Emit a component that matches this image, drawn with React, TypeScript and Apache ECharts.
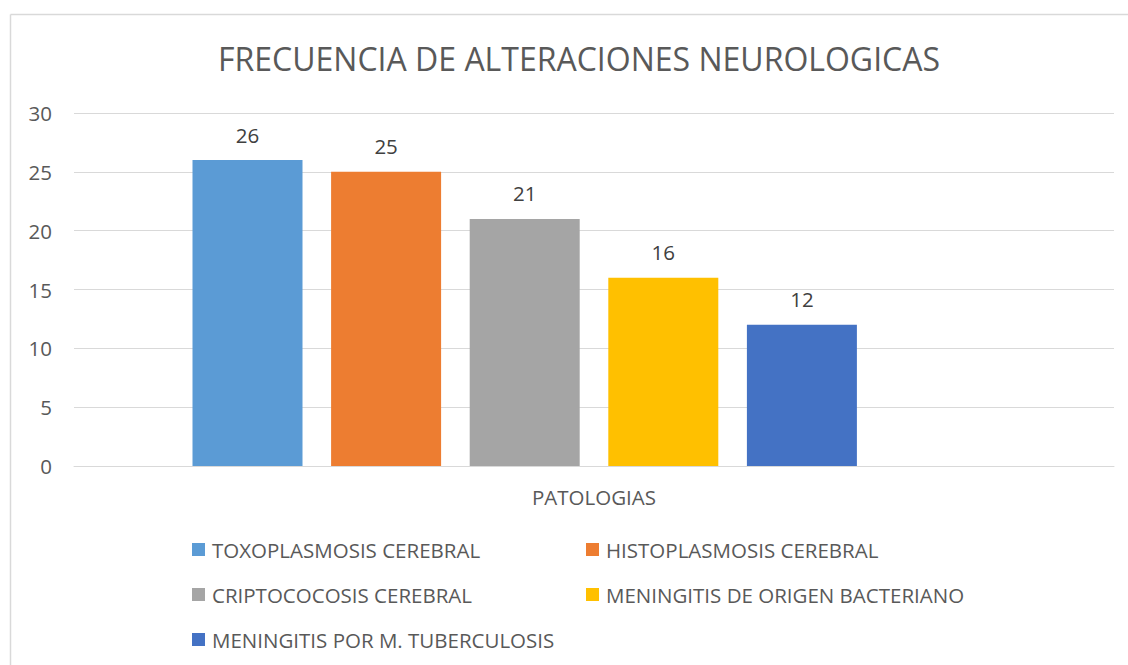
import React, { useEffect, useRef } from "react";
import * as echarts from "echarts";

const categories = ["PATOLOGIAS"];
const seriesNames = [
  "TOXOPLASMOSIS CEREBRAL",
  "HISTOPLASMOSIS CEREBRAL",
  "CRIPTOCOCOSIS CEREBRAL",
  "MENINGITIS DE ORIGEN BACTERIANO",
  "MENINGITIS POR M. TUBERCULOSIS",
  "",
];
const seriesValues = [26, 25, 21, 16, 12, null];
const seriesColors = ["#5B9BD5", "#ED7D31", "#A5A5A5", "#FFC000", "#4472C4", "#70AD47"];
const yTicks = [0, 5, 10, 15, 20, 25, 30];

const FONT = "'Open Sans', sans-serif";
const TXT = "#595959";
const FS = 20.5;

export default function App() {
  const ref = useRef<HTMLDivElement>(null);
  useEffect(() => {
    const chart = echarts.init(ref.current!, null, { renderer: "svg" });
    const legendPos = [
      { left: 192, top: 539 },
      { left: 586, top: 539 },
      { left: 192, top: 584 },
      { left: 586, top: 584 },
      { left: 192, top: 629 },
    ];
    chart.setOption({
      animation: false,
      backgroundColor: "#fff",
      title: {
        text: "FRECUENCIA DE ALTERACIONES NEUROLOGICAS",
        left: 574,
        textAlign: "center",
        top: 37,
        textStyle: { fontFamily: FONT, fontSize: 32, fontWeight: "normal", color: TXT },
      },
      legend: legendPos.map((p, i) => ({
        data: [seriesNames[i]],
        left: p.left,
        top: p.top,
        itemWidth: 13,
        itemHeight: 13,
        itemGap: 7,
        icon: "rect",
        textStyle: { fontFamily: FONT, fontSize: FS, color: TXT, padding: [0, 0, 0, 2] },
        padding: 0,
        selectedMode: false,
      })),
      grid: { left: 74, right: 14, top: 113, bottom: 199, containLabel: false },
      xAxis: {
        type: "category",
        data: categories,
        axisLine: { lineStyle: { color: "#d9d9d9", width: 1 } },
        axisTick: { show: false },
        axisLabel: { fontFamily: FONT, fontSize: FS, color: TXT, margin: 20 },
      },
      yAxis: {
        type: "value",
        min: yTicks[0],
        max: yTicks[yTicks.length - 1],
        interval: 5,
        axisLine: { show: false },
        axisTick: { show: false },
        splitLine: { lineStyle: { color: "#d9d9d9", width: 1 } },
        axisLabel: { fontFamily: FONT, fontSize: FS, color: TXT, margin: 22 },
      },
      series: seriesNames.map((name, i) => ({
        type: "bar",
        name: name || "empty",
        data: [seriesValues[i]],
        barWidth: 110,
        barGap: "26%",
        itemStyle: { color: seriesColors[i] },
        label: {
          show: seriesValues[i] !== null,
          position: "top",
          distance: 15,
          fontFamily: FONT,
          fontSize: FS,
          color: "#404040",
        },
      })),
      graphic: [
        { type: "line", shape: { x1: 10.5, y1: 14.5, x2: 1128, y2: 14.5 }, style: { stroke: "#d9d9d9", lineWidth: 1.5 } },
        { type: "line", shape: { x1: 10.5, y1: 14.5, x2: 10.5, y2: 665 }, style: { stroke: "#d9d9d9", lineWidth: 1.5 } },
      ],
    });
    return () => chart.dispose();
  }, []);
  return <div ref={ref} style={{ position: "fixed", left: 0, top: 0, width: 1128, height: 665 }} />;
}
